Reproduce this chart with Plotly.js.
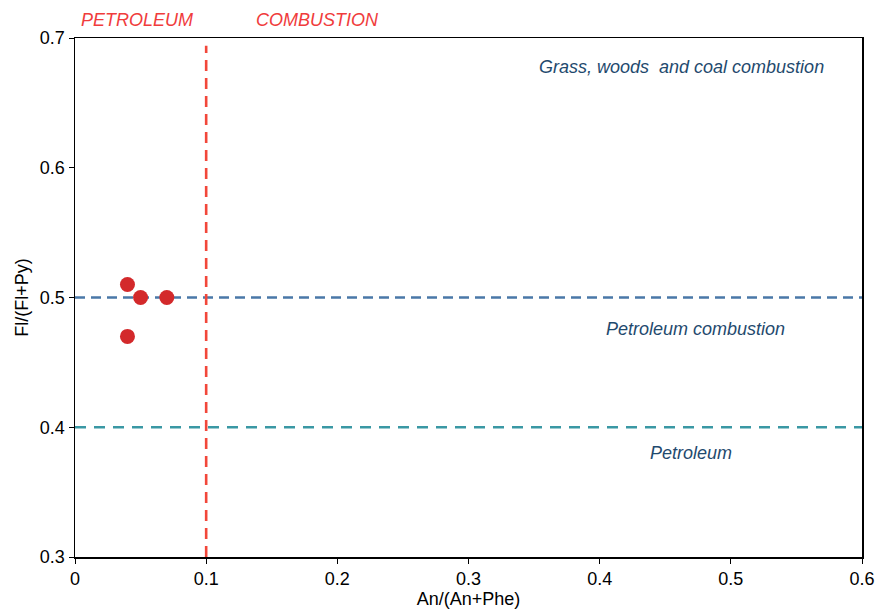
<!DOCTYPE html>
<html>
<head>
<meta charset="utf-8">
<script src="https://cdn.plot.ly/plotly-3.0.1.min.js"></script>
<style>html,body{margin:0;padding:0;background:#fff;}#chart{width:879px;height:611px;}</style>
</head>
<body>
<div id="chart"></div>
<script>
const sampleX = [0.04, 0.05, 0.07, 0.04];
const sampleY = [0.51, 0.50, 0.50, 0.47];
const combustionX = [0.1, 0.1];
const combustionY = [0.3, 0.694];
const petCombX = [0, 0.6];
const petCombY = [0.5, 0.5];
const petX = [0, 0.6];
const petY = [0.4, 0.4];
const xTicks = [0, 0.1, 0.2, 0.3, 0.4, 0.5, 0.6];
const xTickLabels = ['0', '0.1', '0.2', '0.3', '0.4', '0.5', '0.6'];
const yTicks = [0.3, 0.4, 0.5, 0.6, 0.7];
const yTickLabels = ['0.3', '0.4', '0.5', '0.6', '0.7'];

const font = 'Liberation Sans, Arial, sans-serif';
const traces = [
  {x: petCombX, y: petCombY, mode: 'lines', line: {color: '#4a78a8', width: 2.6, dash: '10px,6px'}, hoverinfo: 'skip', cliponaxis: false},
  {x: petX, y: petY, mode: 'lines', line: {color: '#3a98a4', width: 2.6, dash: '11px,8px'}, hoverinfo: 'skip', cliponaxis: false},
  {x: combustionX, y: combustionY, mode: 'lines', line: {color: '#f2473a', width: 2.6, dash: '11px,7px'}, hoverinfo: 'skip', cliponaxis: false},
  {x: sampleX, y: sampleY, mode: 'markers', marker: {color: '#d3292b', size: 15}, cliponaxis: false}
];
const annColor = '#1f4a6e';
const layout = {
  width: 879, height: 611,
  margin: {l: 75, r: 17, t: 38, b: 54},
  paper_bgcolor: '#fff', plot_bgcolor: '#fff',
  showlegend: false,
  font: {family: font, color: '#000', size: 18},
  xaxis: {
    range: [0, 0.6], tickvals: xTicks, ticktext: xTickLabels,
    showgrid: false, zeroline: false, showline: true, linecolor: '#000', linewidth: 1.5,
    mirror: true, ticks: 'outside', ticklen: 5, tickcolor: '#000',
    tickfont: {size: 18, family: font, color: '#000'},
    title: {text: 'An/(An+Phe)', font: {size: 18, family: font, color: '#000'}, standoff: 2}
  },
  yaxis: {
    range: [0.3, 0.7], tickvals: yTicks, ticktext: yTickLabels,
    showgrid: false, zeroline: false, showline: true, linecolor: '#000', linewidth: 1.5,
    mirror: true, ticks: 'outside', ticklen: 5, tickcolor: '#000',
    tickfont: {size: 18, family: font, color: '#000'},
    title: {text: 'Fl/(Fl+Py)', font: {size: 18, family: font, color: '#000'}, standoff: 6}
  },
  annotations: [
    {x: 0.0476, y: 0.7, xref: 'x', yref: 'y', yshift: 18, text: '<i>PETROLEUM</i>', showarrow: false, font: {size: 18, color: '#f03c3c', family: font}},
    {x: 0.185, y: 0.7, xref: 'x', yref: 'y', yshift: 18, text: '<i>COMBUSTION</i>', showarrow: false, font: {size: 18, color: '#f03c3c', family: font}},
    {x: 0.4627, y: 0.678, xref: 'x', yref: 'y', text: '<i>Grass, woods  and coal combustion</i>', showarrow: false, font: {size: 18, color: annColor, family: font}},
    {x: 0.473, y: 0.4757, xref: 'x', yref: 'y', text: '<i>Petroleum combustion</i>', showarrow: false, font: {size: 18, color: annColor, family: font}},
    {x: 0.470, y: 0.380, xref: 'x', yref: 'y', text: '<i>Petroleum</i>', showarrow: false, font: {size: 18, color: annColor, family: font}}
  ]
};
Plotly.newPlot('chart', traces, layout, {displayModeBar: false, staticPlot: true});
</script>
</body>
</html>
